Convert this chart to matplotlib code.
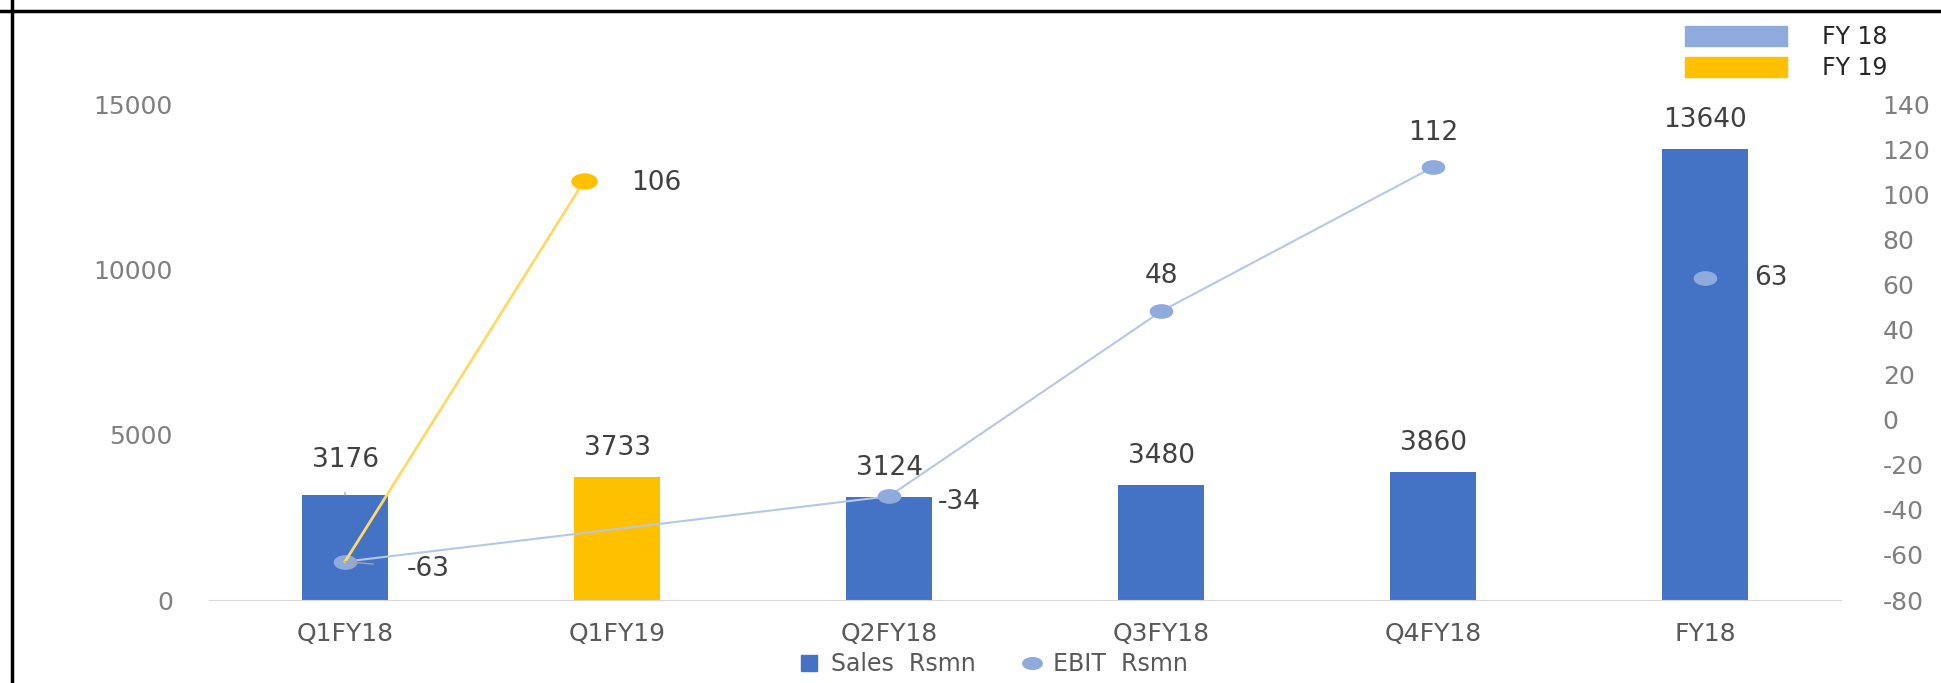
import matplotlib
matplotlib.use('Agg')
import matplotlib.pyplot as plt
from matplotlib.lines import Line2D
from matplotlib.patches import Patch
from matplotlib.path import Path
from matplotlib.transforms import Affine2D

# data
categories = ['Q1FY18', 'Q1FY19', 'Q2FY18', 'Q3FY18', 'Q4FY18', 'FY18']
sales = [3176, 3733, 3124, 3480, 3860, 13640]
sales_colors = ['#4472C4', '#FFC000', '#4472C4', '#4472C4', '#4472C4', '#4472C4']
ebit_fy18_cats = ['Q1FY18', 'Q2FY18', 'Q3FY18', 'Q4FY18']
ebit_fy18 = [-63, -34, 48, 112]
ebit_total_cat = 'FY18'
ebit_total = 63
ebit_fy19_cat = 'Q1FY19'
ebit_fy19 = 106

W, H = 1941, 683
plt.rcParams['font.family'] = ['DejaVu Sans']
plt.rcParams['axes.unicode_minus'] = False
fig = plt.figure(figsize=(W / 100, H / 100), dpi=100)

# plot area in pixels
left, right, top, bottom = 209, 1841, 104, 600
ax = fig.add_axes([left / W, 1 - bottom / H, (right - left) / W, (bottom - top) / H])
ax2 = ax.twinx()

x = list(range(len(categories)))
pos = {c: i for i, c in enumerate(categories)}

ax.bar(x, sales, width=0.315, color=sales_colors, zorder=2)
ax.set_xlim(-0.5, len(categories) - 0.5)
ax.set_ylim(0, 15000)
ax.set_yticks([0, 5000, 10000, 15000])
ax.set_xticks(x)
ax.set_xticklabels(categories, fontsize=18, color='#595959')

ax2.set_ylim(-80, 140)
ax2.set_yticks(range(-80, 141, 20))

for a in (ax, ax2):
    for s in a.spines.values():
        s.set_visible(False)
    a.tick_params(length=0)
ax.spines['bottom'].set_visible(True)
ax.spines['bottom'].set_color('#D9D9D9')
ax.tick_params(axis='y', labelsize=18, labelcolor='#7F7F7F', pad=26)
ax.tick_params(axis='x', pad=16)
ax2.tick_params(axis='y', labelsize=18, labelcolor='#7F7F7F', pad=30)

# sales labels
for i, v in enumerate(sales):
    if i == 0:
        ax.annotate(str(v), (i, v), xytext=(0, 35), textcoords='offset pixels',
                    ha='center', va='center', fontsize=19, color='#404040',
                    arrowprops=dict(arrowstyle='-', color='#A6A6A6', lw=1,
                                    shrinkA=12, shrinkB=0))
    else:
        ax.annotate(str(v), (i, v), xytext=(0, 29), textcoords='offset pixels',
                    ha='center', va='center', fontsize=19, color='#404040')

# ellipse marker
ell = Path.unit_circle().transformed(Affine2D().scale(1, 0.6))

fx = [pos[c] for c in ebit_fy18_cats]
ax2.plot(fx, ebit_fy18, color='#B4C7E7', lw=1.5, marker=ell, ms=16,
         mfc='#8FAADC', mec='#8FAADC', zorder=3)
ax2.plot([pos[ebit_total_cat]], [ebit_total], ls='none', marker=ell, ms=16,
         mfc='#8FAADC', mec='#8FAADC', zorder=3)

fy19_shift = -0.12
ax2.plot([fx[0], pos[ebit_fy19_cat] + fy19_shift], [ebit_fy18[0], ebit_fy19],
         color='#FFD966', lw=2, zorder=3)
ax2.plot([pos[ebit_fy19_cat] + fy19_shift], [ebit_fy19], ls='none', marker=ell,
         ms=18, mfc='#FFC000', mec='#FFC000', zorder=4)

lbl = dict(textcoords='offset pixels', fontsize=19, color='#404040', va='center')
ax2.annotate('-63', (fx[0], ebit_fy18[0]), xytext=(83, -7), ha='center',
             arrowprops=dict(arrowstyle='-', color='#A6A6A6', lw=1, shrinkA=22, shrinkB=0), **lbl)
ax2.annotate('-34', (fx[1], ebit_fy18[1]), xytext=(49, -6), ha='left', **lbl)
ax2.annotate('48', (fx[2], ebit_fy18[2]), xytext=(0, 35), ha='center', **lbl)
ax2.annotate('112', (fx[3], ebit_fy18[3]), xytext=(0, 34), ha='center', **lbl)
ax2.annotate(str(ebit_total), (pos[ebit_total_cat], ebit_total), xytext=(49, 0), ha='left', **lbl)
ax2.annotate(str(ebit_fy19), (pos[ebit_fy19_cat] + fy19_shift, ebit_fy19), xytext=(47, -2),
             ha='left', **lbl)

# top-right legend
top_handles = [Patch(color='#8FAADC', label='FY 18'), Patch(color='#FFC000', label='FY 19')]
leg1 = fig.legend(handles=top_handles, loc='upper left', bbox_to_anchor=(1685 / W, 1 - 25 / H),
                  frameon=False, fontsize=17, handlelength=4.3, handleheight=0.9,
                  handletextpad=1.5, labelspacing=0.3, borderpad=0, borderaxespad=0)
for t in leg1.get_texts():
    t.set_color('#262626')

# bottom legend
bot_handles = [Line2D([], [], ls='none', marker='s', ms=11, color='#4472C4', label='Sales  Rsmn'),
               Line2D([], [], ls='none', marker=ell, ms=14, color='#8FAADC', label='EBIT  Rsmn')]
leg2 = fig.legend(handles=bot_handles, loc='center', bbox_to_anchor=(994 / W, 1 - 664 / H),
                  ncol=2, frameon=False, fontsize=17, handlelength=0.8, handletextpad=0.5,
                  columnspacing=2.0, borderpad=0, borderaxespad=0)
for t in leg2.get_texts():
    t.set_color('#595959')

# frame lines of the screenshot
fig.add_artist(Line2D([0, 1], [1 - 11 / H, 1 - 11 / H], transform=fig.transFigure, color='black', lw=2.5))
fig.add_artist(Line2D([12 / W, 12 / W], [0, 1], transform=fig.transFigure, color='black', lw=2.5))

fig.savefig('out.png', dpi=100)
